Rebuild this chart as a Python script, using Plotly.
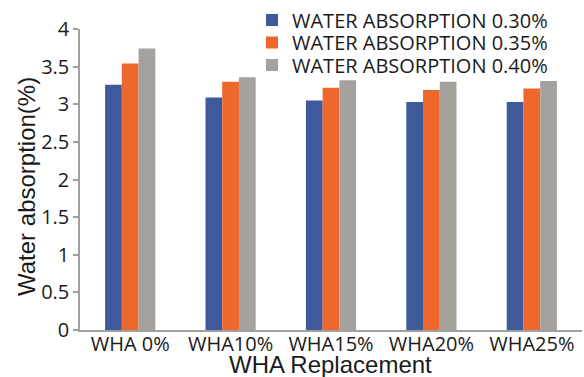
import plotly.graph_objects as go

# Categories and measured water absorption (%) for each mix
categories = ["WHA 0%", "WHA10%", "WHA15%", "WHA20%", "WHA25%"]
series_names = ["WATER ABSORPTION 0.30%", "WATER ABSORPTION 0.35%", "WATER ABSORPTION 0.40%"]
wa_030 = [3.26, 3.09, 3.05, 3.03, 3.03]
wa_035 = [3.54, 3.30, 3.22, 3.19, 3.21]
wa_040 = [3.74, 3.36, 3.32, 3.30, 3.31]
y_ticks = [0, 0.5, 1, 1.5, 2, 2.5, 3, 3.5, 4]

colors = ["#3F5A9B", "#EE672D", "#A5A29E"]
tick_font = dict(family="Open Sans", size=20, color="#1a1a1a")
title_font = dict(family="Liberation Sans, Arial", size=24, color="#1a1a1a")
legend_font = dict(family="Open Sans", size=20, color="#1a1a1a")

# plot area in pixels
L, R, T, B = 80, 2, 29, 47
PW, PH = 584 - L - R, 377 - T - B

# one legend per series so each row sits at its own height
legend_ids = ["legend", "legend2", "legend3"]
legend_rows = [20, 42.5, 65]

fig = go.Figure()
for name, vals, col, lid in zip(series_names, [wa_030, wa_035, wa_040], colors, legend_ids):
    fig.add_trace(go.Bar(x=categories, y=vals, name=name, legend=lid,
                         marker=dict(color=col, line=dict(width=0))))

legend_layout = {}
for lid, row in zip(legend_ids, legend_rows):
    legend_layout[lid] = dict(
        x=(252 - L) / PW, y=1 + (T - row) / PH, xanchor="left", yanchor="middle",
        font=legend_font, bgcolor="rgba(0,0,0,0)", borderwidth=0,
    )

fig.update_layout(
    width=584, height=377,
    margin=dict(l=L, r=R, t=T, b=B, autoexpand=False),
    paper_bgcolor="white", plot_bgcolor="white",
    barmode="group", bargap=0.5, bargroupgap=0,
    showlegend=True,
    xaxis=dict(
        showline=True, linecolor="#a0a0a0", linewidth=1.5,
        ticks="", showgrid=False, tickfont=tick_font, ticklabelstandoff=-5,
    ),
    yaxis=dict(
        range=[0, 4], tickvals=y_ticks,
        showline=True, linecolor="#a0a0a0", linewidth=1.5,
        ticks="outside", ticklen=5, tickcolor="#a0a0a0", tickwidth=1.5,
        showgrid=False, zeroline=False, tickfont=tick_font,
    ),
    annotations=[
        dict(text="Water absorption(%)", textangle=-90,
             xref="paper", yref="paper", x=-(L - 11) / PW, y=(330 - 186.5) / PH,
             xanchor="left", yanchor="middle", showarrow=False, font=title_font),
        dict(text="WHA Replacement",
             xref="paper", yref="paper", x=(330 - L) / PW, y=-(364 - 330) / PH,
             xanchor="center", yanchor="middle", showarrow=False, font=title_font),
    ],
    **legend_layout,
)

fig.write_html("out.html")
